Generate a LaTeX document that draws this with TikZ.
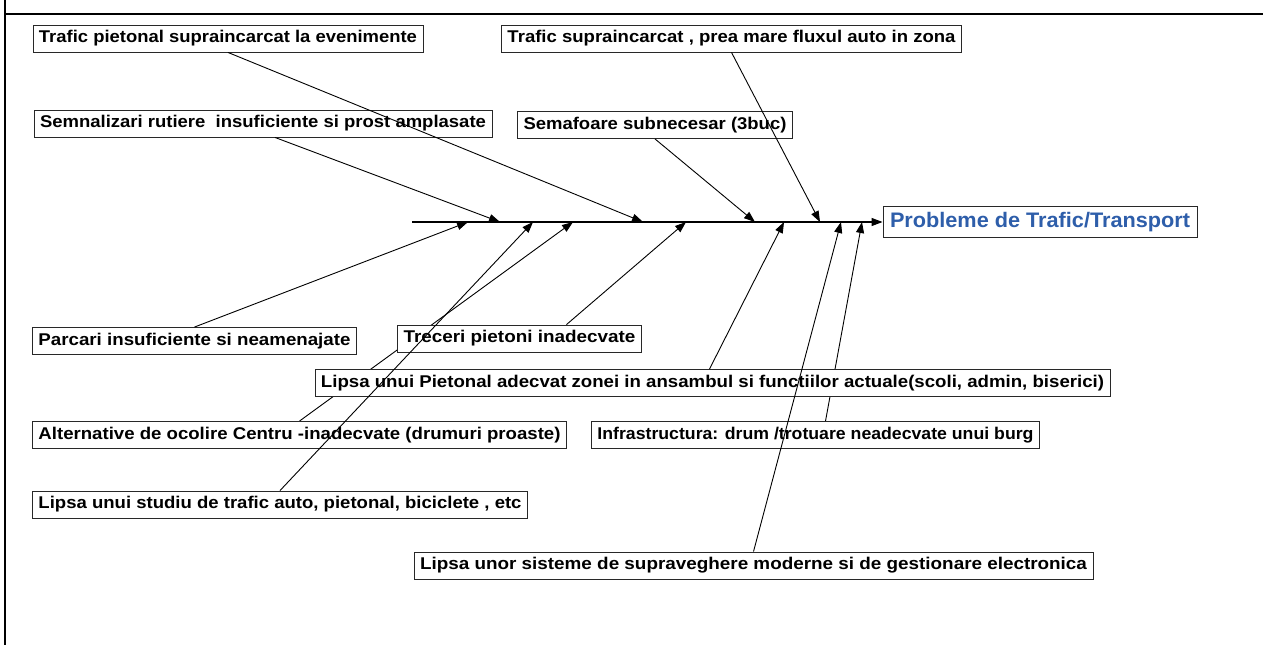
\documentclass[tikz,border=0pt]{standalone}
\usepackage{fontspec}
\setmainfont{Liberation Sans}
\usepackage{graphicx}
\usepackage{tikz}
\usetikzlibrary{arrows.meta, backgrounds}
\definecolor{boxline}{RGB}{40,40,40}
\definecolor{probblue}{RGB}{46,94,170}
\newcommand{\fitto}[2]{\resizebox{#1pt}{\height}{#2}}
\tikzset{
  cause/.style={rectangle, draw=boxline, fill=white, line width=0.9pt,
    minimum height=27pt, inner xsep=6pt, inner ysep=0pt,
    font=\fontsize{17}{19}\selectfont\bfseries},
  effect/.style={rectangle, draw=boxline, fill=white, line width=0.9pt,
    minimum height=31pt, inner xsep=7pt, inner ysep=0pt,
    font=\fontsize{21}{24}\selectfont\bfseries\color{probblue}},
  bone/.style={-{Triangle[length=11pt,width=8pt]}, line width=0.9pt, color=black},
  spine/.style={-{Triangle[length=11pt,width=8pt]}, line width=1.1pt, color=black}
}

\begin{document}
\begin{tikzpicture}[x=1pt, y=-1pt]
\useasboundingbox (0,0) rectangle (1263,645);
% frame
\draw[line width=2.5pt] (5,0) -- (5,645);
\draw[line width=2.5pt] (5,14) -- (1263,14);
% effect and spine
\node[effect] (probl) at (1040,222) {\fitto{300}{Probleme de Trafic/Transport}};
\coordinate (tail) at (412,222);
\draw[spine] (tail) -- (probl.west);
% upper causes
\node[cause] (tpiet) at (228,38.5) {\fitto{378}{Trafic pietonal supraincarcat la evenimente}};
\node[cause] (semn) at (263,123.5) {\fitto{446}{Semnalizari rutiere \ insuficiente si prost amplasate}};
\node[cause] (tauto) at (731.5,38.5) {\fitto{448}{Trafic supraincarcat , prea mare fluxul auto in zona}};
\node[cause] (semaf) at (655,125) {\fitto{263}{Semafoare subnecesar (3buc)}};
% lower causes
\node[cause] (parc) at (194.5,341) {\fitto{312}{Parcari insuficiente si neamenajate}};
\node[cause] (trec) at (519.5,338.5) {\fitto{232}{Treceri pietoni inadecvate}};
\node[cause] (lpiet) at (712.5,383) {\fitto{783}{Lipsa unui Pietonal adecvat zonei in ansambul si functiilor actuale(scoli, admin, biserici)}};
\node[cause] (alter) at (299.5,435) {\fitto{522}{Alternative de ocolire Centru -inadecvate (drumuri proaste)}};
\node[cause] (infra) at (815.5,435) {\fitto{436}{Infrastructura: drum /trotuare neadecvate unui burg}};
\node[cause] (studiu) at (280,504.5) {\fitto{483}{Lipsa unui studiu de trafic auto, pietonal, biciclete , etc}};
\node[cause] (supr) at (753.5,565.5) {\fitto{667}{Lipsa unor sisteme de supraveghere moderne si de gestionare electronica}};
% points on the spine
\coordinate (e-parc) at (468,222);
\coordinate (e-semn) at (500,222);
\coordinate (e-studiu) at (533,222);
\coordinate (e-alter) at (573,222);
\coordinate (e-tpiet) at (643,222);
\coordinate (e-trec) at (686,222);
\coordinate (e-semaf) at (755,222);
\coordinate (e-lpiet) at (784,222);
\coordinate (e-tauto) at (820,222);
\coordinate (e-supr) at (841,222);
\coordinate (e-infra) at (862,222);
% bones
\draw[bone] (tpiet.south) -- (e-tpiet);
\draw[bone] ([xshift=12pt]semn.south) -- (e-semn);
\draw[bone] (tauto.south) -- (e-tauto);
\draw[bone] (semaf.south) -- (e-semaf);
\draw[bone] (parc.north) -- (e-parc);
\draw[bone] ([xshift=47pt]trec.north) -- (e-trec);
\draw[bone] ([xshift=-3pt]lpiet.north) -- (e-lpiet);
\draw[bone] (studiu.north) -- (e-studiu);
\draw[bone] (supr.north) -- (e-supr);
\begin{scope}[on background layer]
\draw[bone] (alter.north) -- (e-alter);
\draw[bone] ([xshift=10pt]infra.north) -- (e-infra);
\end{scope}
\end{tikzpicture}
\end{document}
